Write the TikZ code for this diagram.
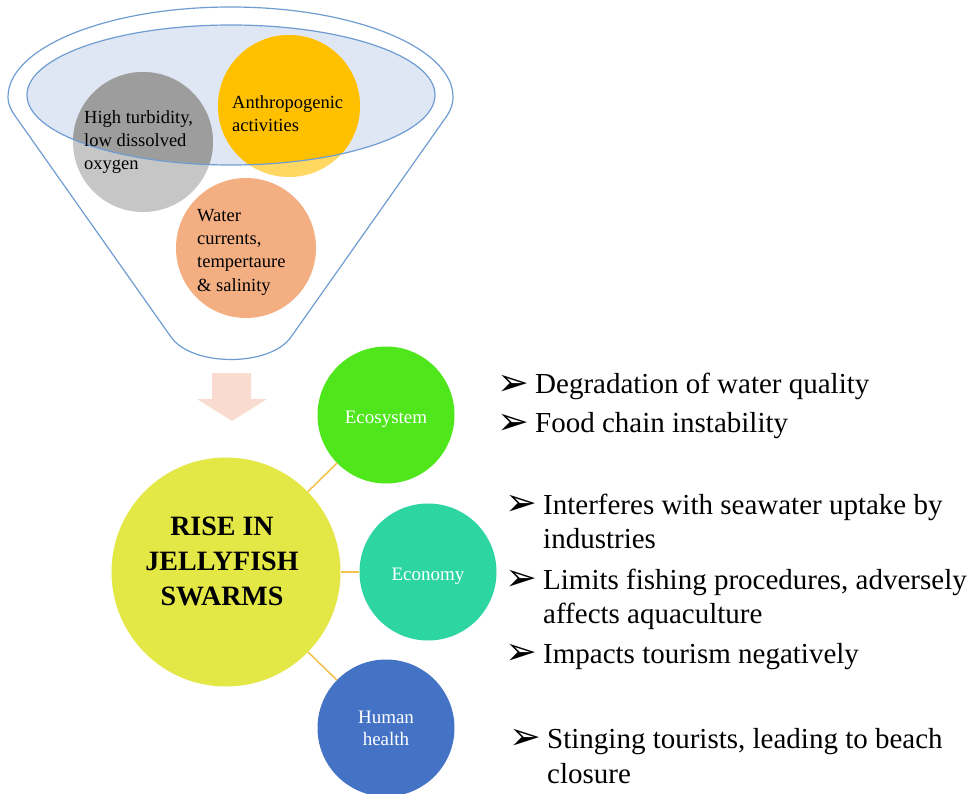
\documentclass[tikz,border=0pt]{standalone}
\usepackage{fontspec}
\setmainfont{Liberation Serif}
\newfontfamily\dejavu{DejaVu Sans}
\definecolor{funnelblue}{HTML}{6F9DD2}
\definecolor{ellfill}{HTML}{DEE7F3}
\definecolor{graydark}{HTML}{9D9D9D}
\definecolor{graylight}{HTML}{C6C6C6}
\definecolor{orangedark}{HTML}{FFC000}
\definecolor{orangelight}{HTML}{FFD761}
\definecolor{salmon}{HTML}{F3AE82}
\definecolor{arrowpink}{HTML}{FADBD0}
\definecolor{bigyellow}{HTML}{E3E846}
\definecolor{ecogreen}{HTML}{4FE61C}
\definecolor{econteal}{HTML}{2DD6A0}
\definecolor{healthblue}{HTML}{4472C4}
\definecolor{conngold}{HTML}{F5C150}
\begin{document}
\begin{tikzpicture}[x=1pt,y=-1pt,
  ftext/.style={anchor=base west, inner sep=0pt, font=\fontsize{18.5}{23}\selectfont},
  wtext/.style={anchor=base, inner sep=0pt, text=white, font=\fontsize{19}{22}\selectfont},
  btext/.style={anchor=base west, inner sep=0pt, font=\fontsize{29}{35}\selectfont},
  barrow/.style={anchor=center, inner sep=0pt, font=\dejavu\fontsize{38}{40}\selectfont},
  smallc/.style={circle, minimum size=137pt, inner sep=0pt},
  conn/.style={draw=conngold, line width=1.6pt}
]
\useasboundingbox (0,0) rectangle (969,794);
\fill[white] (0,0) rectangle (969,794);

% funnel outline
\draw[funnelblue, line width=1.2pt]
  (8,97) arc[start angle=180, end angle=360, x radius=222.5, y radius=90]
  .. controls (453,105) and (450,112) .. (444,120)
  -- (291,337) .. controls (270,367) and (192,367) .. (171,337)
  -- (18,120) .. controls (12,112) and (8,105) .. (8,97);

% inner ellipse fill
\fill[ellfill] (231,95) ellipse [x radius=204, y radius=70];

% circles in funnel
\node[circle, minimum size=140pt, inner sep=0pt, fill=graylight] (gray) at (143,142) {};
\node[circle, minimum size=142pt, inner sep=0pt, fill=orangelight] (anth) at (289,106) {};
\node[circle, minimum size=140pt, inner sep=0pt, fill=salmon] (water) at (246,248) {};
\begin{scope}
  \clip (231,95) ellipse [x radius=204, y radius=70];
  \fill[graydark] (gray.center) circle [radius=70];
  \fill[orangedark] (anth.center) circle [radius=71];
\end{scope}
\draw[funnelblue, line width=1.2pt] (231,95) ellipse [x radius=204, y radius=70];

% funnel texts
\node[ftext] (g1) at (84,124) {High turbidity,};
\node[ftext] (g2) at (84,147) {low dissolved};
\node[ftext] (g3) at (84,170) {oxygen};
\node[ftext] (a1) at (232,109) {Anthropogenic};
\node[ftext] (a2) at (232,132) {activities};
\node[ftext] (w1) at (197,222) {Water};
\node[ftext] (w2) at (197,245) {currents,};
\node[ftext] (w3) at (197,268) {tempertaure};
\node[ftext] (w4) at (197,291) {\& salinity};

% block arrow
\fill[arrowpink] (212,373) -- (251,373) -- (251,399) -- (267,399) -- (232,421)
  -- (197,399) -- (212,399) -- cycle;

% central circle and branches
\node[circle, minimum size=229pt, inner sep=0pt, fill=bigyellow] (rise) at (226,572) {};
\node[smallc, fill=ecogreen] (eco) at (386,415) {};
\node[smallc, fill=econteal] (econ) at (428,572) {};
\node[smallc, fill=healthblue] (health) at (386,728) {};
\draw[conn] (rise) -- (eco);
\draw[conn] (rise) -- (econ);
\draw[conn] (rise) -- (health);

\node[align=center, inner sep=0pt, font=\bfseries\fontsize{28}{35}\selectfont] (risetext) at (222,561)
  {RISE IN\\JELLYFISH\\SWARMS};
\node[wtext] (ecot) at (386,423) {Ecosystem};
\node[wtext] (econt) at (428,580) {Economy};
\node[wtext] (h1) at (386,723) {Human};
\node[wtext] (h2) at (386,745) {health};

% bullet lists
\node[barrow] (ba1) at (513,385) {➢};
\node[btext] (b1) at (535,393) {Degradation of water quality};
\node[barrow] (ba2) at (513,424) {➢};
\node[btext] (b2) at (535,432) {Food chain instability};
\node[barrow] (ba3) at (521,505) {➢};
\node[btext] (b3) at (543,514) {Interferes with seawater uptake by};
\node[btext] (b3b) at (543,548) {industries};
\node[barrow] (ba4) at (521,580) {➢};
\node[btext] (b4) at (543,589) {Limits fishing procedures, adversely};
\node[btext] (b4b) at (543,623) {affects aquaculture};
\node[barrow] (ba5) at (521,654) {➢};
\node[btext] (b5) at (543,663) {Impacts tourism negatively};
\node[barrow] (ba6) at (525,739) {➢};
\node[btext] (b6) at (547,748) {Stinging tourists, leading to beach};
\node[btext] (b6b) at (547,783) {closure};
\end{tikzpicture}
\end{document}
